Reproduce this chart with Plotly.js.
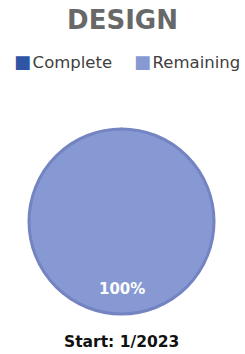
<!DOCTYPE html>
<html>
<head>
<meta charset="utf-8">
<script src="https://cdn.plot.ly/plotly-3.0.1.min.js"></script>
<style>html,body{margin:0;padding:0;background:#fff;}#chart{width:245px;height:354px;}</style>
</head>
<body>
<div id="chart"></div>
<script>
const labels = ["Complete", "Remaining"];
const values = [0, 100];
const colors = ["#2F55A4", "#8799D2"];
const chartTitle = "DESIGN";
const startText = "Start: 1/2023";

const total = values.reduce((a, b) => a + b, 0);
const remainingPct = Math.round(values[1] / total * 100) + "%";
const FONT = "'DejaVu Sans', sans-serif";

const data = [{
  type: "pie",
  labels: labels,
  values: values,
  sort: false,
  direction: "clockwise",
  marker: {colors: colors, line: {color: "#7484C2", width: 3}},
  textinfo: "none",
  hoverinfo: "none"
}];

// legend built as text items from labels/colors
const legendX = [12, 132];
const legendAnn = labels.map((lab, i) => ({
  text: '<span style="color:' + colors[i] + ';font-size:18px">■</span><span style="font-size:5px"> </span>' + lab,
  x: (legendX[i] - 29) / 185, y: (314 - 62) / 185,
  xref: "paper", yref: "paper", xanchor: "left", yanchor: "middle",
  showarrow: false, font: {size: 16.5, color: "#404040", family: FONT}
}));

const layout = {
  width: 245, height: 354,
  margin: {l: 29, r: 31, t: 129, b: 40},
  paper_bgcolor: "#ffffff",
  font: {family: FONT},
  title: {
    text: "<b>" + chartTitle + "</b>",
    font: {size: 26, color: "#686868", family: FONT},
    x: 0.5, xanchor: "center",
    y: 1 - 20 / 354, yref: "container", yanchor: "middle"
  },
  showlegend: false,
  annotations: legendAnn.concat([
    {text: "<b>" + remainingPct + "</b>", x: 0.5, y: (314 - 289) / 185, xref: "paper", yref: "paper",
     showarrow: false, font: {size: 15, color: "#ffffff", family: FONT}, xanchor: "center", yanchor: "middle"},
    {text: "<b>" + startText + "</b>", x: 0.5, y: -(342 - 314) / 185, xref: "paper", yref: "paper",
     showarrow: false, font: {size: 15.5, color: "#111111", family: FONT}, xanchor: "center", yanchor: "middle"}
  ])
};

Plotly.newPlot("chart", data, layout, {displayModeBar: false, staticPlot: true});
</script>
</body>
</html>
